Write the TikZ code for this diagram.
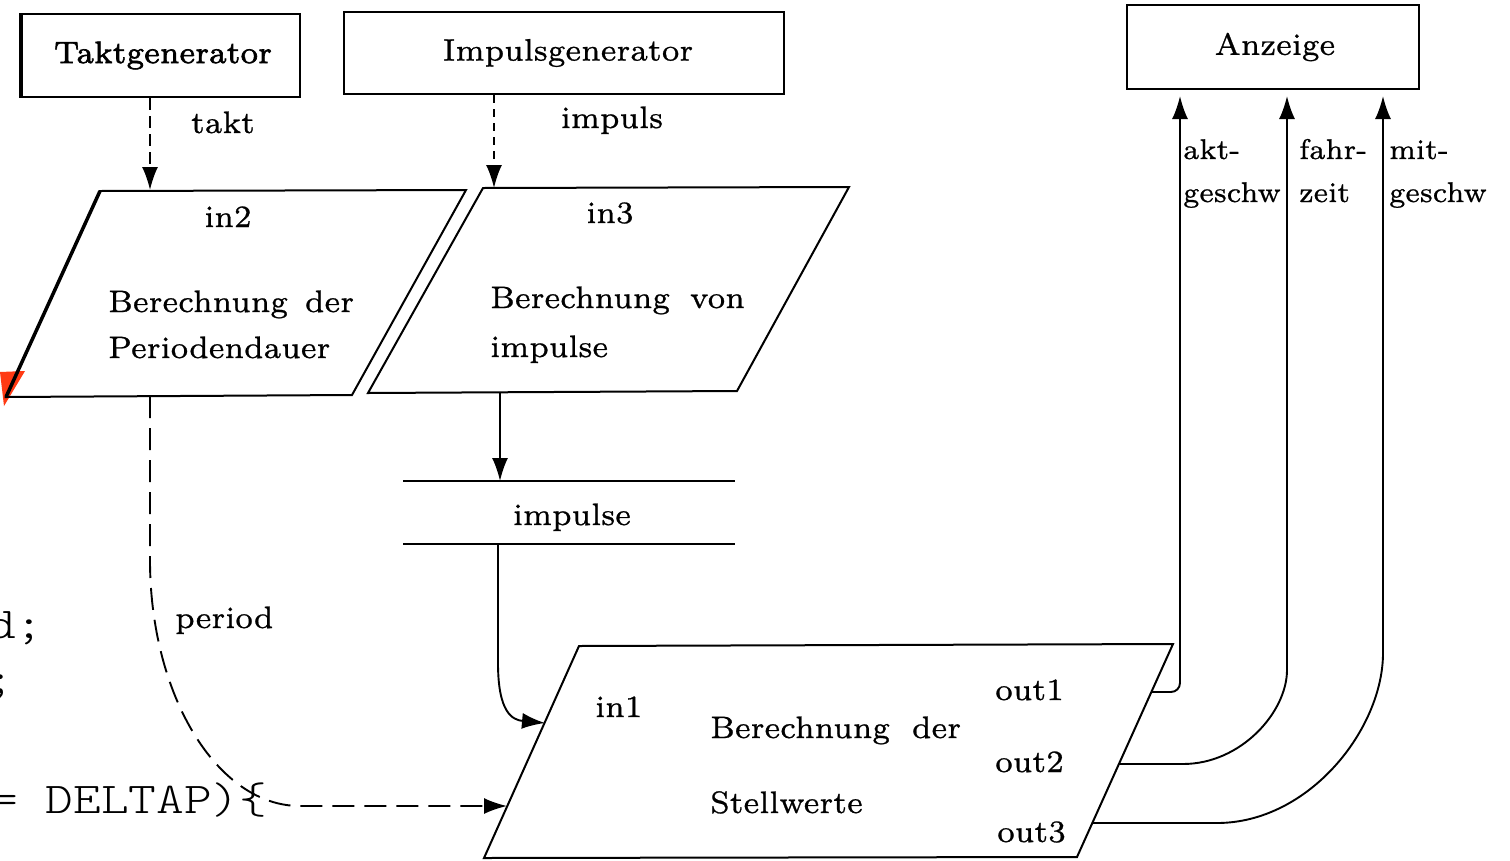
\documentclass[tikz,border=0pt]{standalone}
\usepackage{fontspec}
\usepackage{graphicx}
\newfontfamily\diafamily{lmroman7-regular.otf}[FakeBold=0.8]
\newfontfamily\heavyfamily{lmroman7-regular.otf}[FakeBold=2]
\newfontfamily\codefont{lmmonolt10-regular.otf}
\usetikzlibrary{arrows.meta}
\definecolor{marker}{RGB}{255,58,20}
\newcommand\diafont{\diafamily\fontsize{31}{37}\selectfont}
\newcommand\heavyfont{\heavyfamily\fontsize{31}{37}\selectfont}
\newcommand\sidefont{\diafamily\fontsize{28.5}{34}\selectfont}
\newcommand\codesize{\fontsize{44}{50}\selectfont}
\newcommand\codetext[1]{\scalebox{1.2}[1]{#1}}
\tikzset{
  box/.style={draw, line width=2pt, inner sep=0pt, font=\diafont},
  shapeline/.style={line width=2pt, line join=miter},
  txt/.style={inner sep=0pt, font=\diafont, anchor=base},
  ltxt/.style={inner sep=0pt, font=\diafont, anchor=base west},
  stxt/.style={inner sep=0pt, font=\sidefont, anchor=base west},
  code/.style={inner sep=0pt, font=\codefont\codesize, anchor=base west},
  flow/.style={line width=1.9pt, -{Latex[length=23pt,width=16pt]}},
  dashtakt/.style={dash pattern=on 12pt off 6pt},
  dashimp/.style={dash pattern=on 8pt off 6pt},
  dashper/.style={dash pattern=on 22pt off 10pt},
}
\begin{document}
\begin{tikzpicture}[x=1pt,y=-1pt]
\useasboundingbox (0,0) rectangle (1510,860);

% leftover code fragment and marker at the left edge
\node[code] (c1) at (-12,638) {\codetext{d;}};
\node[code] (c2) at (-14,693) {\codetext{;}};
\node[code] (c3) at (-10,813) {\codetext{= DELTAP)\{}};
\fill[marker] (0,372) -- (25,371) -- (4,406) -- cycle;

% terminators
\node[box, font=\heavyfont, minimum width=279pt, minimum height=83pt] (tg) at (160.5,55.5) {\hspace{5pt}Taktgenerator};
\draw[line width=4.5pt] ([xshift=1pt]tg.north west) -- ([xshift=1pt]tg.south west);
\node[box, minimum width=440pt, minimum height=82pt] (ig) at (564,53) {\hspace{8pt}Impulsgenerator};
\node[box, minimum width=292pt, minimum height=84pt] (az) at (1273,47) {\hspace{4pt}Anzeige};

% process: Periodendauer
\coordinate (a1) at (100,191);
\coordinate (a2) at (466,190);
\coordinate (a3) at (352,395);
\coordinate (a4) at (6,397);
\draw[shapeline] (a4) -- (a1) -- (a2) -- (a3) -- cycle;
\draw[line width=3.5pt] (a4) -- (a1);
\node[txt] (in2) at (228,227) {in2};
\node[ltxt] (p1a) at (108,312) {Berechnung\hspace{17pt}der};
\node[ltxt] (p1b) at (108,358) {Periodendauer};

% process: impulse
\draw[shapeline] (368,393) -- (483,188) -- (849,187) -- (737,391) -- cycle;
\node[txt] (in3) at (610,223) {in3};
\node[ltxt] (p2a) at (490,308) {Berechnung\hspace{20pt}von};
\node[ltxt] (p2b) at (490,357) {impulse};

% data store
\draw[shapeline] (403,481) -- (735,481);
\draw[shapeline] (403,544) -- (735,544);
\node[txt] (stl) at (572,525) {impulse};

% process: Stellwerte
\draw[shapeline] (484,858) -- (579,646) -- (1173,644) -- (1077,857) -- cycle;
\node[ltxt] (in1) at (595,717) {in1};
\node[ltxt] (p3a) at (710,738) {Berechnung\hspace{22pt}der};
\node[ltxt] (p3b) at (710,813) {Stellwerte};
\node[ltxt] (out1) at (995,700) {out1};
\node[ltxt] (out2) at (995,772) {out2};
\node[ltxt] (out3) at (997,842) {out3};

% ports
\coordinate (p1in) at (150,190);
\coordinate (p2in) at (494,188);
\coordinate (p1out) at (150,396);
\coordinate (p2out) at (500,392);
\coordinate (stin) at (500,481);
\coordinate (stout) at (498,544);
\coordinate (p3in1) at (545,723);
\coordinate (p3per) at (507,806);
\coordinate (p3o1) at (1152,692);
\coordinate (p3o2) at (1119,764);
\coordinate (p3o3) at (1092,823);
\coordinate (az1) at (1180,96);
\coordinate (az2) at (1287,96);
\coordinate (az3) at (1383,96);

% flows
\draw[flow, dashtakt] (tg.south -| p1in) -- (p1in);
\draw[flow, dashimp] (ig.south -| p2in) -- (p2in);
\draw[flow] (p2out) -- (stin);
\draw[flow] (stout) -- (498,663) .. controls (498,712) and (512,720) .. (p3in1);
\draw[flow, dashper] (p1out) -- (150,560) .. controls (150,695) and (217,806) .. (300,806) -- (p3per);
\draw[flow, rounded corners=9pt] (p3o1) -- (1180,692) -- (az1);
\draw[flow] (p3o2) -- (1183,764) .. controls (1241,764) and (1287,712) .. (1287,670) -- (az2);
\draw[flow] (p3o3) -- (1217,823) .. controls (1309,823) and (1383,729) .. (1383,653) -- (az3);

% flow labels
\node[txt] (tlbl) at (223,133) {takt};
\node[txt] (ilbl) at (612,128) {impuls};
\node[ltxt] (plbl) at (175,628) {period};
\node[stxt] (a1l) at (1183,159) {akt-};
\node[stxt] (a1m) at (1183,202) {geschw};
\node[stxt] (a2l) at (1299,159) {fahr-};
\node[stxt] (a2m) at (1299,202) {zeit};
\node[stxt] (a3l) at (1389,159) {mit-};
\node[stxt] (a3m) at (1389,202) {geschw};
\end{tikzpicture}
\end{document}
